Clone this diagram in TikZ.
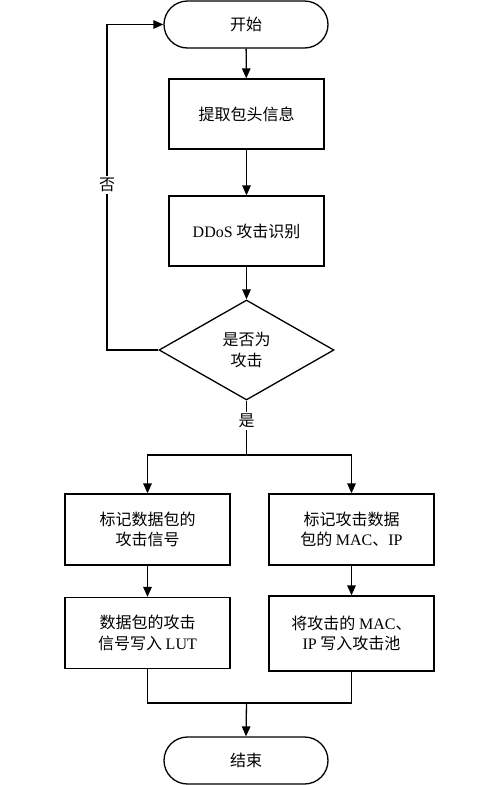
\documentclass[tikz,border=0pt]{standalone}
\usepackage{fontspec}
\setmainfont{Liberation Serif}
\newfontfamily\cjk{Noto Sans CJK SC}
\newfontfamily\lat{Liberation Serif}
\usetikzlibrary{shapes.geometric,arrows.meta}
\begin{document}
\begin{tikzpicture}[x=1pt,y=-1pt,
  every node/.style={font=\cjk\fontsize{16}{20.5}\selectfont, align=center, inner sep=0pt},
  term/.style={draw, line width=1.3pt, rounded corners=23.5pt, minimum width=164pt, minimum height=47pt},
  box/.style={draw, line width=1.3pt, minimum width=155pt, minimum height=70pt},
  sbox/.style={draw, line width=1.3pt, minimum width=165pt, minimum height=71pt},
  dia/.style={draw, line width=1.3pt, diamond, minimum width=175pt, minimum height=100pt},
  lbl/.style={fill=white, inner sep=2pt},
  arr/.style={line width=1.3pt, -{Triangle[length=10pt,width=8.5pt]}},
  ln/.style={line width=1.3pt}]
\useasboundingbox (0,0) rectangle (500,785);
\fill[white] (0,0) rectangle (500,785);
\node[term] (start) at (246,24.5) {开始};
\node[box] (b1) at (246.5,114) {提取包头信息};
\node[box] (b2) at (246.5,231) {{\lat DDoS} 攻击识别};
\node[dia] (d) at (246.5,350) {是否为\\攻击};
\node[sbox] (l1) at (147.5,529.5) {标记数据包的\\攻击信号};
\node[sbox] (r1) at (351.5,529.5) {标记攻击数据\\包的 {\lat MAC}、{\lat IP}};
\node[sbox] (l2) at (147.5,633) {数据包的攻击\\信号写入 {\lat LUT}};
\node[sbox, minimum height=75pt] (r2) at (351.5,633.5) {将攻击的 {\lat MAC}、\\{\lat IP} 写入攻击池};
\node[term] (end) at (246,760.5) {结束};
\coordinate (loop) at (107,350);
\coordinate (split) at (246.5,455);
\coordinate (merge) at (246.5,703);
\draw[arr] (start) -- (b1);
\draw[arr] (b1) -- (b2);
\draw[arr] (b2) -- (d);
\draw[arr] (d.west) -- (loop) |- (start.west);
\node[lbl] (no) at (107,185) {否};
\draw[ln] (d.south) -- (split);
\node[lbl] (yes) at (246.5,421) {是};
\draw[arr] (split) -| (l1.north);
\draw[arr] (split) -| (r1.north);
\draw[arr] (l1) -- (l2);
\draw[arr] (r1) -- (r2);
\draw[ln] (l2.south) |- (merge) -| (r2.south);
\draw[arr] (merge) -- (end.north);
\end{tikzpicture}
\end{document}
